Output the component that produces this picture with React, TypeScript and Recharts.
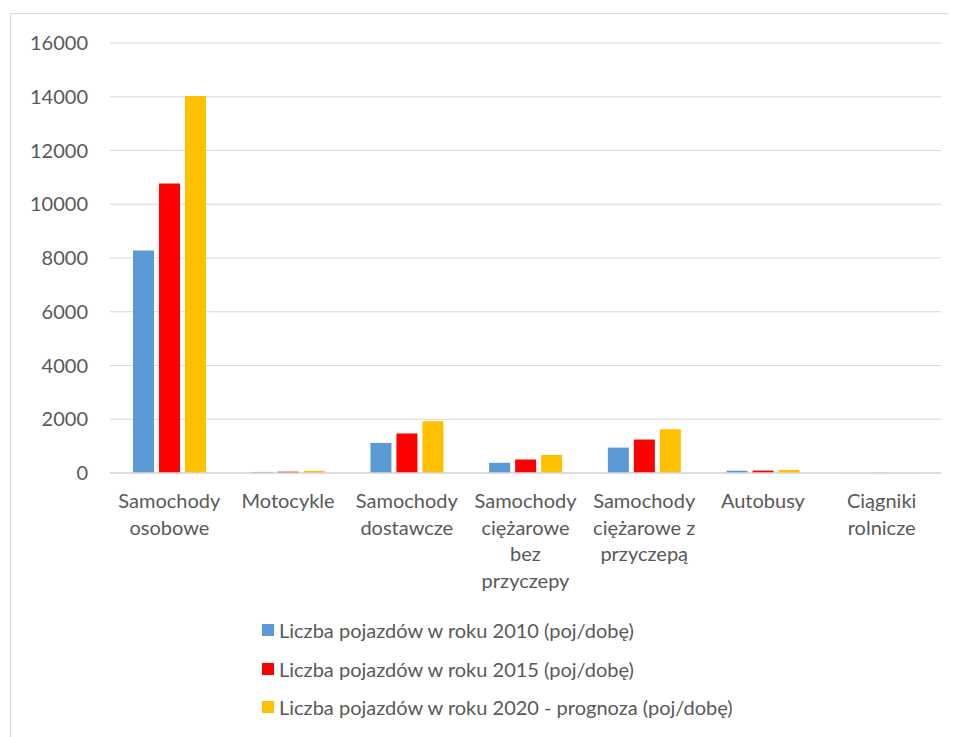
import { BarChart, Bar, XAxis, YAxis, CartesianGrid, Legend } from 'recharts'

const CATEGORIES = [
  'Samochody osobowe',
  'Motocykle',
  'Samochody dostawcze',
  'Samochody ciężarowe bez przyczepy',
  'Samochody ciężarowe z przyczepą',
  'Autobusy',
  'Ciągniki rolnicze',
]

const Y2010 = [8280, 40, 1120, 380, 945, 85, 2]
const Y2015 = [10770, 50, 1470, 500, 1245, 90, 3]
const Y2020 = [14030, 80, 1925, 670, 1625, 115, 4]

const Y_TICKS = [0, 2000, 4000, 6000, 8000, 10000, 12000, 14000, 16000]

const SERIES = [
  { key: 'y2010', name: 'Liczba pojazdów w roku 2010 (poj/dobę)', color: '#5b9bd5' },
  { key: 'y2015', name: 'Liczba pojazdów w roku 2015 (poj/dobę)', color: '#ff0000' },
  { key: 'y2020', name: 'Liczba pojazdów w roku 2020 - prognoza (poj/dobę)', color: '#ffc000' },
]

const data = CATEGORIES.map((name, i) => ({
  name,
  y2010: Y2010[i],
  y2015: Y2015[i],
  y2020: Y2020[i],
}))

const FONT = 'Lato, sans-serif'
const TEXT = '#595959'

// break a label into lines of at most ~12 chars, like Excel does
function wrap(label: string, max = 12) {
  const lines: string[] = []
  let cur = ''
  for (const w of label.split(' ')) {
    const next = cur ? cur + ' ' + w : w
    if (next.length > max && cur) {
      lines.push(cur)
      cur = w
    } else cur = next
  }
  if (cur) lines.push(cur)
  return lines
}

function CategoryTick({ x, y, payload }: any) {
  const lines = wrap(payload.value)
  return (
    <text x={x} y={y} textAnchor="middle" fill={TEXT} fontSize={20} fontFamily={FONT}>
      {lines.map((l, i) => (
        <tspan key={i} x={x} y={y + 28 + i * 26.5} dy="0.355em">
          {l}
        </tspan>
      ))}
    </text>
  )
}

function LegendBox() {
  return (
    <div style={{ fontFamily: FONT, fontSize: 20, color: TEXT }}>
      {SERIES.map((s) => (
        <div key={s.key} style={{ display: 'flex', alignItems: 'center', height: 38.5 }}>
          <span style={{ width: 12, height: 12, background: s.color, marginRight: 5, display: 'inline-block' }} />
          <span style={{ whiteSpace: 'nowrap' }}>{s.name}</span>
        </div>
      ))}
    </div>
  )
}

export default function App() {
  return (
    <div
      style={{
        marginTop: 5,
        marginLeft: 2,
        width: 945,
        height: 723,
        borderTop: '1px solid #d9d9d9',
        borderLeft: '1px solid #d9d9d9',
        overflow: 'hidden',
      }}
    >
      <BarChart
        width={945}
        height={723}
        data={data}
        margin={{ top: 29, right: 15, left: 0, bottom: 0 }}
        barSize={21}
        barGap={5}
      >
        <CartesianGrid vertical={false} stroke="#d9d9d9" />
        <XAxis
          dataKey="name"
          height={264}
          interval={0}
          tickLine={false}
          tickSize={0}
          tickMargin={0}
          axisLine={{ stroke: '#d9d9d9', strokeWidth: 1.5 }}
          tick={<CategoryTick />}
        />
        <YAxis
          width={99}
          domain={[0, 16000]}
          ticks={Y_TICKS}
          axisLine={false}
          tickLine={false}
          tickSize={0}
          tickMargin={22}
          tick={{ fill: TEXT, fontSize: 20, fontFamily: FONT }}
        />
        <Legend
          layout="vertical"
          align="center"
          verticalAlign="middle"
          content={<LegendBox />}
          wrapperStyle={{ left: 251, top: 597, width: 'auto' }}
        />
        {SERIES.map((s) => (
          <Bar key={s.key} dataKey={s.key} name={s.name} fill={s.color} isAnimationActive={false} />
        ))}
      </BarChart>
    </div>
  )
}
